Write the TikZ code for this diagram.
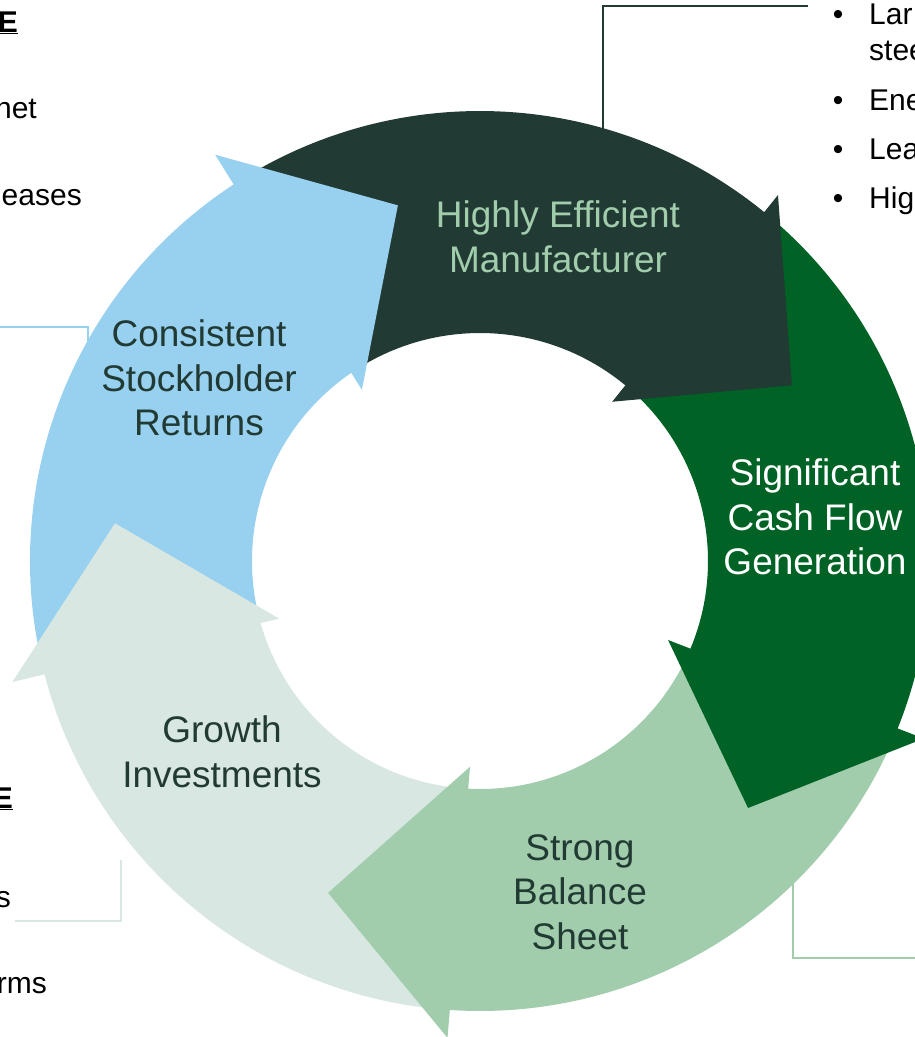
\documentclass[tikz,border=0pt]{standalone}
\usepackage{fontspec}
\setmainfont{Liberation Sans}
\usetikzlibrary{calc}
\definecolor{cmfg}{RGB}{33,58,51}
\definecolor{ccash}{RGB}{0,99,37}
\definecolor{cbal}{RGB}{161,205,173}
\definecolor{cgrow}{RGB}{217,231,226}
\definecolor{cret}{RGB}{152,209,239}

% inner and outer ring radius
\def\Ri{228}\def\Ro{450}
% curved body: colour, tail angle, end angle (end lies under the head)
\newcommand\cyclebody[3]{%
  \fill[#1] ($(C)+(#2:\Ro pt)$) arc[start angle=#2, end angle=#3, radius=\Ro pt]
    -- ($(C)+(#3:\Ri pt)$) arc[start angle=#3, end angle=#2, radius=\Ri pt] -- cycle;}
% triangular head: colour, outer barb (angle, radius), tip (angle, radius),
% inner barb (angle, radius)
\newcommand\cyclehead[7]{%
  \fill[#1] ($(C)+(#2:#3 pt)$) -- ($(C)+(#4:#5 pt)$) -- ($(C)+(#6:#7 pt)$) -- cycle;}

\begin{document}
\begin{tikzpicture}[x=1pt,y=1pt,
  lbl/.style={font=\fontsize{37}{44.5}\selectfont, align=center, inner sep=0},
  side/.style={font=\fontsize{30}{36}\selectfont, inner sep=0, anchor=base east},
  bul/.style={font=\fontsize{30}{36}\selectfont, inner sep=0, anchor=base west},
  link/.style={line width=2}]
\useasboundingbox (0,0) rectangle (915,-1037);
\clip (0,0) rectangle (915,-1037);
\coordinate (C) at (480,-561);

% callout texts at the sides
\node[side] (tlhead) at (18,-32) {\underline{\textbf{E}}};
\node[side] (tl1) at (37,-118) {net};
\node[side] (tl2) at (82,-205) {eases};
\node[side] (blhead) at (13,-808) {\underline{\textbf{E}}};
\node[side] (bl1) at (11,-907) {s};
\node[side] (bl2) at (47,-993) {rms};
\foreach \t/\y [count=\i] in {Lar/-24, Ene/-110, Lea/-159, Hig/-208}{
  \node[bul] (tr\i) at (869,\y) {\t};
  \node[bul, anchor=base] (dot\i) at (838,\y) {•};
}
\node[bul] (tr1b) at (869,-60) {stee};

% elbow connectors from the callouts into the cycle
\coordinate (mfgA) at (808,-6);  \coordinate (mfgB) at (603,-6);  \coordinate (mfgC) at (603,-200);
\coordinate (retA) at (0,-327);  \coordinate (retB) at (88,-327);  \coordinate (retC) at (88,-400);
\coordinate (groA) at (15,-921); \coordinate (groB) at (121,-921); \coordinate (groC) at (121,-860);
\coordinate (balA) at (915,-958);\coordinate (balB) at (793,-958); \coordinate (balC) at (793,-860);
\draw[link, cmfg] (mfgA) -- (mfgB) -- (mfgC);
\draw[link, cret] (retA) -- (retB) -- (retC);
\draw[link, cgrow] (groA) -- (groB) -- (groC);
\draw[link, cbal] (balA) -- (balB) -- (balC);

% arrow bodies first, heads on top of the following tail
\cyclebody{cmfg}{121.3}{49.5}
\cyclebody{ccash}{49.2}{-23.6}
\cyclebody{cbal}{-23.8}{-94.7}
\cyclebody{cgrow}{-95}{-166.3}
\cyclebody{cret}{-167}{-237.7}
\cyclehead{cmfg}{50.85}{472}{29.4}{358}{50.3}{207}
\cyclehead{ccash}{-21.8}{478}{-42.66}{364.5}{-22.79}{204}
\cyclehead{cbal}{-93.9}{478}{-114.6}{365}{-92.78}{206}
\cyclehead{cgrow}{-165.5}{483}{-185.9}{367}{-164}{209}
\cyclehead{cret}{123.1}{485}{103}{365}{124.6}{208}

% labels on the arrows
\node[lbl, text=cbal] (mfgtext) at (558,-237) {Highly Efficient\\Manufacturer};
\node[lbl, text=white] (cashtext) at (815,-517) {Significant\\Cash Flow\\Generation};
\node[lbl, text=cmfg] (baltext) at (580,-892) {Strong\\Balance\\Sheet};
\node[lbl, text=cmfg] (growtext) at (222,-752) {Growth\\Investments};
\node[lbl, text=cmfg] (rettext) at (199,-378) {Consistent\\Stockholder\\Returns};
\end{tikzpicture}
\end{document}
